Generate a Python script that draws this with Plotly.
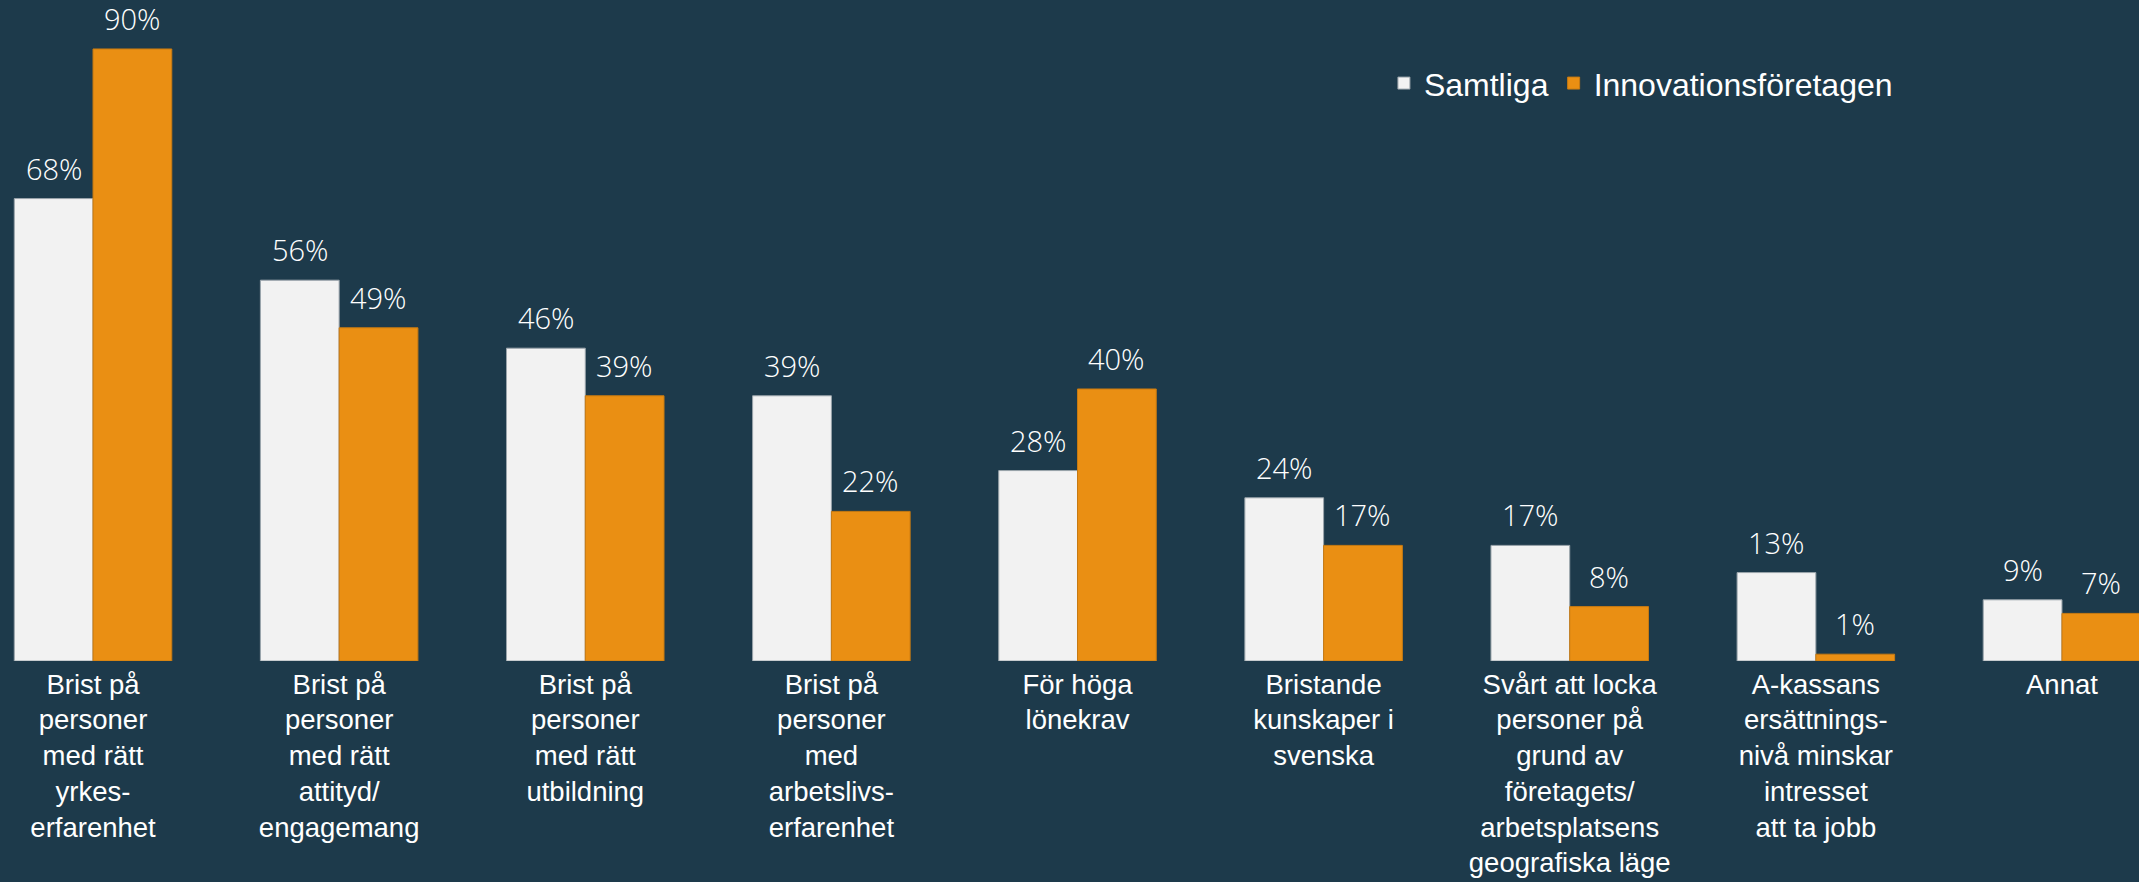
import plotly.graph_objects as go

categories = [
    "Brist på<br>personer<br>med rätt<br>yrkes-<br>erfarenhet",
    "Brist på<br>personer<br>med rätt<br>attityd/<br>engagemang",
    "Brist på<br>personer<br>med rätt<br>utbildning",
    "Brist på<br>personer<br>med<br>arbetslivs-<br>erfarenhet",
    "För höga<br>lönekrav",
    "Bristande<br>kunskaper i<br>svenska",
    "Svårt att locka<br>personer på<br>grund av<br>företagets/<br>arbetsplatsens<br>geografiska läge",
    "A-kassans<br>ersättnings-<br>nivå minskar<br>intresset<br>att ta jobb",
    "Annat",
]
samtliga = [68, 56, 46, 39, 28, 24, 17, 13, 9]
innovation = [90, 49, 39, 22, 40, 17, 8, 1, 7]
series_names = ["Samtliga", "Innovationsföretagen"]

BG = "#1d3a4b"
WHITE = "#f2f2f2"
ORANGE = "#ea8f13"
LABEL_FONT = "Open Sans, Lato, sans-serif"
TICK_FONT = "Liberation Sans, Arial, sans-serif"

W, H = 2139, 882
fig = go.Figure()
fig.add_trace(go.Bar(
    x=list(range(len(categories))), y=samtliga, name=series_names[0],
    marker=dict(color=WHITE, line=dict(color="#9aa4ab", width=1)),
))
fig.add_trace(go.Bar(
    x=list(range(len(categories))), y=innovation, name=series_names[1],
    marker=dict(color=ORANGE, line=dict(color="#c77a12", width=1)),
))

# value labels above bars
for vals, shift in ((samtliga, -39), (innovation, 39)):
    for i, v in enumerate(vals):
        fig.add_annotation(
            x=i, y=v, xref="x", yref="y", text=f"{v}%", showarrow=False,
            xshift=shift, yshift=9, yanchor="bottom",
            font=dict(family=LABEL_FONT, size=29, color="#ffffff", weight=300),
        )

fig.update_layout(
    width=W, height=H,
    paper_bgcolor=BG, plot_bgcolor=BG,
    margin=dict(l=0, r=0, t=0, b=221),
    barmode="group", bargap=0.36, bargroupgap=0,
    showlegend=True,
    legend=dict(
        orientation="h", x=0.647, y=0.874, xanchor="left", yanchor="middle",
        font=dict(family=TICK_FONT, size=32, color="#ffffff"),
        bgcolor="rgba(0,0,0,0)", traceorder="normal",
    ),
)
fig.update_xaxes(
    tickmode="array", tickvals=list(range(len(categories))), ticktext=categories,
    range=[-0.378, 8.313], showgrid=False, zeroline=False, showline=False,
    ticks="", ticklabelstandoff=4, automargin=False,
    tickfont=dict(family=TICK_FONT, size=27.5, color="#ffffff"),
    fixedrange=True,
)
fig.update_yaxes(
    range=[0, 97.2], showgrid=False, zeroline=False, showline=False,
    showticklabels=False, fixedrange=True, automargin=False,
)
fig.write_html("out.html", config={"displayModeBar": False})

# remove the browser's default page margin so the figure fills the window
with open("out.html", encoding="utf-8") as f:
    html = f.read()
html = html.replace(
    "<head>",
    "<head><style>html,body{margin:0;padding:0;background:%s;overflow:hidden}</style>" % BG,
    1,
)
with open("out.html", "w", encoding="utf-8") as f:
    f.write(html)
